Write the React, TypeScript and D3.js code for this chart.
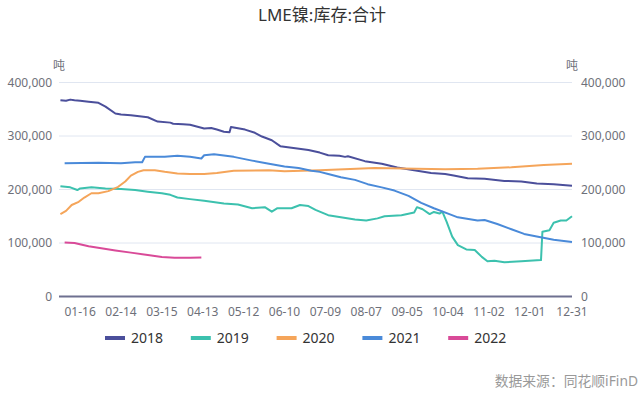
import React from "react";
import * as d3 from "d3";

const title = "LME镍:库存:合计";
const unit = "吨";
const source = "数据来源：同花顺iFinD";
const years = ["2018", "2019", "2020", "2021", "2022"];
const colors = ["#4B4F9B", "#3CC1AE", "#F5A55A", "#4A8AD9", "#D94A98"];
const xTickLabels = ["01-16", "02-14", "03-15", "04-13", "05-12", "06-10", "07-09", "08-07", "09-05", "10-04", "11-02", "12-01", "12-31"];
const yTicks = [0, 100000, 200000, 300000, 400000];

const s2018: [string, number][] = [
  ["01-02", 367000], ["01-06", 366000], ["01-09", 368000], ["01-12", 367000], ["01-16", 366000], ["01-22", 364000], ["01-29", 362000],
  ["02-03", 355000], ["02-10", 342000], ["02-14", 340000], ["02-21", 339000], ["03-05", 335000], ["03-12", 327000],
  ["03-21", 325000], ["03-23", 323000], ["03-30", 322000], ["04-04", 321000], ["04-14", 314000], ["04-19", 315000],
  ["04-23", 312000], ["04-28", 308000], ["05-02", 307000], ["05-03", 317000], ["05-13", 312000], ["05-20", 306000],
  ["05-25", 299000], ["06-01", 292000], ["06-07", 281000], ["06-15", 278000], ["06-27", 274000], ["07-05", 269000],
  ["07-11", 264000], ["07-19", 263000], ["07-23", 261000], ["07-25", 262000], ["08-06", 253000], ["08-18", 248000],
  ["08-29", 241000], ["09-10", 236000], ["09-22", 231000], ["10-02", 229000], ["10-08", 226000], ["10-18", 221000],
  ["10-30", 220000], ["11-13", 216000], ["11-25", 215000], ["12-06", 211000], ["12-18", 210000], ["12-31", 207000],
];

const s2019: [string, number][] = [
  ["01-02", 206000], ["01-09", 204000], ["01-14", 199000], ["01-16", 202000], ["01-24", 204000], ["02-03", 202000],
  ["02-14", 201000], ["02-24", 199000], ["03-05", 196000], ["03-15", 193000], ["03-21", 190000], ["03-26", 185000],
  ["04-04", 182000], ["04-14", 179000], ["04-28", 174000], ["05-08", 172000], ["05-18", 165000], ["05-27", 167000],
  ["06-01", 158500], ["06-05", 165000], ["06-15", 165000], ["06-21", 171000], ["06-27", 169000], ["07-02", 162000],
  ["07-11", 152000], ["07-20", 148000], ["07-30", 144000], ["08-07", 142000], ["08-15", 146000], ["08-20", 150000],
  ["09-01", 152000], ["09-10", 157000], ["09-12", 167000], ["09-16", 163000], ["09-21", 154000], ["09-24", 158000],
  ["09-28", 155000], ["09-30", 158500], ["10-03", 140000], ["10-07", 112000], ["10-11", 96000], ["10-17", 88000],
  ["10-23", 87000], ["10-28", 74000], ["11-01", 66000], ["11-06", 67000], ["11-13", 64000], ["11-25", 66000],
  ["12-09", 68000], ["12-10", 121000], ["12-15", 124000], ["12-18", 138000], ["12-23", 142000], ["12-27", 142000],
  ["12-31", 150000],
];

const s2020: [string, number][] = [
  ["01-02", 154000], ["01-06", 160000], ["01-10", 171000], ["01-15", 177000], ["01-19", 185000], ["01-24", 193000],
  ["01-29", 193000], ["02-05", 197000], ["02-12", 205000], ["02-17", 215000], ["02-21", 226000], ["02-26", 233000],
  ["03-02", 236000], ["03-10", 236000], ["03-17", 233000], ["03-26", 230000], ["04-04", 229000], ["04-14", 229000],
  ["04-23", 231000], ["05-05", 235000], ["05-30", 236000], ["06-10", 234000], ["07-05", 236000], ["08-13", 240000],
  ["10-02", 238000], ["10-25", 239000], ["11-18", 241500], ["12-11", 246000], ["12-31", 248000],
];

const s2021: [string, number][] = [
  ["01-05", 249000], ["01-29", 250000], ["02-14", 249000], ["02-24", 251000], ["03-01", 251000], ["03-03", 261000],
  ["03-10", 261000], ["03-17", 261000], ["03-26", 263000], ["04-04", 261000], ["04-12", 258000], ["04-14", 264000],
  ["04-21", 266000], ["05-05", 261000], ["05-18", 254000], ["05-30", 248000], ["06-10", 243000], ["06-20", 240000],
  ["06-29", 235000], ["07-05", 233000], ["07-11", 229000], ["07-20", 223000], ["07-30", 218000], ["08-08", 210000],
  ["08-18", 204000], ["08-27", 198000], ["09-06", 188000], ["09-15", 175000], ["09-24", 165000], ["10-05", 154000],
  ["10-11", 148000], ["10-25", 142000], ["10-30", 143000], ["11-08", 135500], ["11-18", 125600], ["11-27", 117000],
  ["12-06", 112000], ["12-18", 106000], ["12-31", 102000],
];

const s2022: [string, number][] = [
  ["01-05", 101000], ["01-12", 100000], ["01-22", 94000], ["01-31", 90000], ["02-10", 86000], ["02-21", 82000],
  ["03-05", 77600], ["03-15", 74000], ["03-24", 72500], ["04-04", 72500], ["04-12", 73000],
];

const seriesList = [s2018, s2019, s2020, s2021, s2022];

const parse = d3.timeParse("%Y-%m-%d");
const yearStart = parse("2021-01-01") as Date;
const dayOf = (md: string) => d3.timeDay.count(yearStart, parse("2021-" + md) as Date);

const W = 644;
const H = 398;

export default function App() {
  const x = d3.scaleLinear().domain([0, 364]).range([59, 572]);
  const y = d3.scaleLinear().domain([0, 400000]).range([296.5, 82.5]);
  const line = d3
    .line<[string, number]>()
    .x((d) => x(dayOf(d[0])))
    .y((d) => y(d[1]));
  const fmt = d3.format(",");
  const font = "'Noto Sans', 'Noto Sans CJK SC', sans-serif";
  const legendX = d3.scaleLinear().domain([0, 1]).range([105, 190.8]);

  return (
    <div style={{ position: "fixed", left: 0, top: 0 }}>
      <svg width={W} height={H} style={{ display: "block", background: "#fff" }} fontFamily={font}>
        <text x={322} y={21} textAnchor="middle" fontSize={17} fill="#333">{title}</text>
        <text x={59} y={70} textAnchor="middle" fontSize={12} fill="#6E7079">{unit}</text>
        <text x={572} y={70} textAnchor="middle" fontSize={12} fill="#6E7079">{unit}</text>
        {yTicks.map((t) => (
          <g key={t}>
            {t > 0 && <line x1={59} x2={572} y1={y(t)} y2={y(t)} stroke="#E0E6F1" strokeWidth={1} />}
            <text x={52} y={y(t)} dy="0.35em" textAnchor="end" fontSize={12} fill="#6E7079">{fmt(t)}</text>
            <text x={581} y={y(t)} dy="0.35em" textAnchor="start" fontSize={12} fill="#6E7079">{fmt(t)}</text>
          </g>
        ))}
        {seriesList.map((s, i) => (
          <path key={years[i]} d={line(s) || ""} fill="none" stroke={colors[i]} strokeWidth={2} strokeLinejoin="round" />
        ))}
        <line x1={59} x2={572} y1={y(0)} y2={y(0)} stroke="#6E7090" strokeWidth={2} />
        {xTickLabels.map((l) => (
          <text key={l} x={x(dayOf(l))} y={316} textAnchor="middle" fontSize={12} fill="#6E7079">{l}</text>
        ))}
        {years.map((yr, i) => (
          <g key={yr} transform={`translate(${legendX(i)},338)`}>
            <line x1={0} x2={20} y1={0} y2={0} stroke={colors[i]} strokeWidth={4} />
            <text x={26} y={0} dy="0.35em" fontSize={14} fill="#333">{yr}</text>
          </g>
        ))}
        <text x={638} y={386} textAnchor="end" fontSize={13.8} fill="#999">{source}</text>
      </svg>
    </div>
  );
}
